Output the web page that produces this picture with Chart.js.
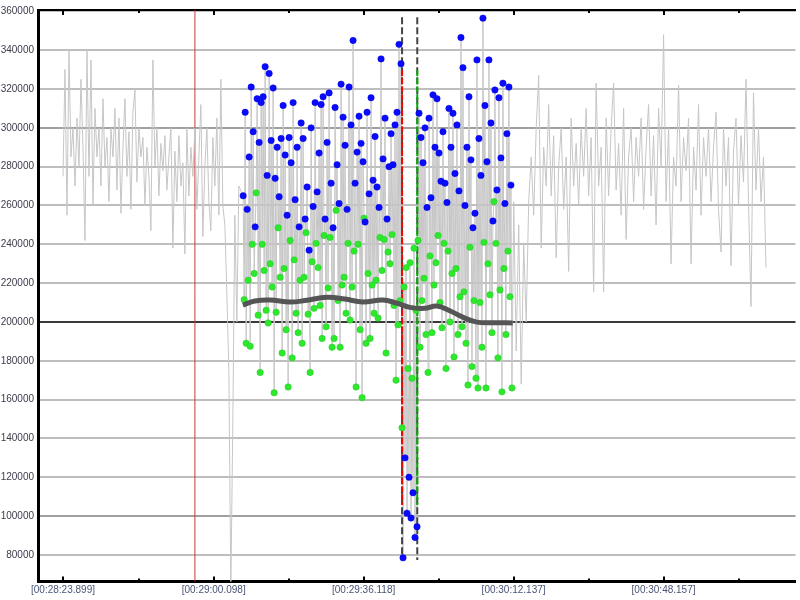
<!DOCTYPE html>
<html>
<head>
<meta charset="utf-8">
<script src="https://cdn.jsdelivr.net/npm/chart.js@4/dist/chart.umd.min.js"></script>
<style>
  html, body { margin: 0; padding: 0; background: #fff; }
  #wrap { width: 800px; height: 600px; }
</style>
</head>
<body>
<div id="wrap"><canvas id="chart" width="800" height="600"></canvas></div>
<script>
// all times are seconds after 00:28:00
const xMajorTicks = [23.899, 60.098, 96.118, 132.137, 168.157];
const xMajorLabels = ['[00:28:23.899]', '[00:29:00.098]', '[00:29:36.118]', '[00:30:12.137]', '[00:30:48.157]'];
const xMinorTicks = [42.14, 78.15, 114.16, 150.17, 186.18];
const yTicks = [80000, 100000, 120000, 140000, 160000, 180000, 200000, 220000, 240000,
  260000, 280000, 300000, 320000, 340000, 360000];

// raw signal before the selected window (sampled every 0.48 s)
const leftStart = 23.9;
const leftStep = 0.48;
const leftValues = [
  275000, 330000, 255000, 340000, 285000, 300000, 270000, 305000, 280000, 325000,
  290000, 242000, 340000, 275000, 335000, 260000, 310000, 285000, 300000, 270000,
  315000, 280000, 295000, 262000, 300000, 285000, 310000, 268000, 305000, 256000,
  290000, 315000, 275000, 298000, 258000, 308000, 320000, 272000, 300000, 285000,
  295000, 260000, 290000, 275000, 247000, 335000, 280000, 300000, 265000, 292000,
  278000, 296000, 268000, 285000, 300000, 238000, 288000, 262000, 296000, 270000,
  282000, 235000, 300000, 265000, 290000, 275000, 300000, 258000, 285000, 312000,
  244000, 280000, 300000, 262000, 247000, 295000, 270000, 305000, 255000, 325000,
  260000, 250000, 215000, 175000, 62000, 150000, 255000, 200000, 270000
];

// selected window: peaks (blue) and troughs (green)
const midStart = 67.18;
const midStep = 0.48;
const peakValues = [
  265000, 308000, 258000, 285000, 321000, 298000, 249000, 315000, 292500, 313000,
  316000, 331500, 275500, 328000, 293500, 320500, 274000, 290000, 264500, 294500,
  311500, 286000, 255000, 295000, 282000, 313000, 263000, 290000, 249000, 302500,
  294500, 253000, 269500, 237000, 300000, 259500, 313000, 267000, 287000, 312000,
  316000, 253000, 292500, 318000, 271500, 248500, 310500, 281000, 261000, 322500,
  305500, 291000, 258000, 321000, 301500, 345000, 271500, 287500, 306000, 292000,
  282500, 251500, 308000, 266000, 315500, 273000, 295500, 269500, 259000, 335500,
  284000, 305000, 253000, 280000, 297000, 281000, 301500, 308000,
  343000, 333000, 78500, 130000, 101500, 120000, 99000, 112000, 89000, 94500,
  307500, 295000, 282000, 300000, 259000, 305000, 264000, 317000, 290000, 315000,
  287000, 272500, 298000, 271500, 261500, 310000, 290000, 307500, 276500, 301500,
  267500, 346500, 331000, 260000, 290000, 316000, 283500, 248500, 256000, 335000,
  294500, 275500, 356500, 311500, 282500, 335000, 302500, 252000, 319500, 268000,
  315500, 284500, 323000, 261000, 297000, 321000, 270500
];
const troughValues = [
  211500, 189000, 221500, 187500, 240000, 225000, 266500, 203500, 174000, 240000,
  226500, 206000, 199500, 230000, 218000, 163500, 205000, 248500, 223000, 184000,
  227500, 196000, 166500, 242000, 181500, 232000, 204500, 194500, 221500, 189000,
  223000, 246000, 204000, 174000, 231000, 207000, 240500, 228000, 208500, 191500,
  244500, 197500, 217500, 243500, 187000, 191500, 257500, 211000, 187000, 219000,
  223000, 204500, 240500, 201000, 218000, 236500, 166500, 240000, 196000, 161000,
  253500, 189000, 225000, 191500, 219000, 204500, 221500, 202000, 243500, 226500,
  242500, 184000, 236000, 230000, 245000, 208500, 170000, 198500,
  211000, 145500, 218000, 228000, 176000, 230500, 171000, 238000, 206000, 242000,
  187000, 211000, 222500, 193500, 174000, 234000, 194500, 219000, 230500, 244500,
  210000, 197000, 240500, 176000, 236500, 200000, 225000, 182000, 227500, 193500,
  213000, 197500, 215500, 189000, 167500, 238500, 177000, 211000, 171000, 166000,
  210000, 187000, 241000, 166000, 230000, 214000, 194500, 262000, 240500, 181500,
  216500, 164000, 227500, 193500, 236500, 213000, 166000
];

// raw signal after the selected window (sampled every 0.6 s)
const rightStart = 132.17;
const rightStep = 0.6;
const rightValues = [
  262000, 185000, 250000, 168000, 240000, 200000, 262000, 285000, 255000, 300000,
  327000, 238000, 290000, 270000, 312000, 265000, 296000, 233000, 280000, 300000,
  258000, 285000, 226000, 305000, 270000, 292000, 260000, 300000, 275000, 310000,
  265000, 295000, 215500, 323000, 270000, 290000, 215500, 305000, 265000, 300000,
  323000, 268000, 292000, 255000, 310000, 242500, 285000, 300000, 262000, 295000,
  275000, 305000, 258000, 290000, 312000, 265000, 296000, 250000, 310000, 280000,
  348000, 262000, 300000, 230000, 285000, 270000, 322000, 262000, 295000, 278000,
  305000, 230000, 290000, 268000, 312000, 255000, 295000, 275000, 300000, 262000,
  290000, 308000, 258000, 236000, 300000, 270000, 295000, 229000, 288000, 305000,
  260000, 296000, 272000, 325000, 262000, 208000, 318000, 268000, 300000, 262000,
  285000, 228000
];

// moving average over the window
const trendTimes = [67.11, 69.99, 73.59, 78.39, 81.99, 87.27, 91.59, 95.91, 100.72,
  104.08, 107.20, 110.80, 113.68, 116.80, 119.92, 123.29, 127.61, 131.93];
const trendValues = [208700, 210800, 211300, 210300, 211000, 212700, 211800, 210300, 211300,
  209700, 207500, 207000, 208200, 205800, 202500, 199900, 199600, 199500];

// markers
const markerTime = 55.59;
const cursorStart = 105.35;
const cursorEnd = 109.0;
const cursorSpan = [357000, 77400];
const cursorRange = [329600, 105700];

const yMin = 66300, yMax = 360700;
const xMin = 17.895, xMax = 199.86;

const peaks = peakValues.map((v, i) => ({ x: midStart + midStep * i, y: v }));
const troughs = troughValues.map((v, i) => ({ x: midStart + midStep * i + midStep / 2, y: v }));
const raw = [];
leftValues.forEach((v, i) => raw.push({ x: leftStart + leftStep * i, y: v }));
peaks.forEach((p, i) => { raw.push(p); raw.push(troughs[i]); });
rightValues.forEach((v, i) => raw.push({ x: rightStart + rightStep * i, y: v }));
const trend = trendTimes.map((t, i) => ({ x: t, y: trendValues[i] }));
const vline = (t, ys) => ys.map(y => ({ x: t, y: y }));

const innerTicks = {
  id: 'innerTicks',
  afterDraw(chart) {
    const { ctx, chartArea, scales: { x } } = chart;
    ctx.save();
    ctx.strokeStyle = '#000';
    ctx.lineWidth = 2;
    const mark = (t, len) => {
      const px = Math.round(x.getPixelForValue(t));
      ctx.beginPath();
      ctx.moveTo(px, chartArea.bottom);
      ctx.lineTo(px, chartArea.bottom - len);
      ctx.moveTo(px, chartArea.top);
      ctx.lineTo(px, chartArea.top + len);
      ctx.stroke();
    };
    xMajorTicks.forEach(t => mark(t, 5));
    xMinorTicks.forEach(t => mark(t, 3));
    ctx.restore();
  }
};

Chart.defaults.font.family = '"Liberation Sans", Arial, sans-serif';
Chart.defaults.font.size = 10;

const lineDefaults = { showLine: true, pointRadius: 0, fill: false };

new Chart(document.getElementById('chart'), {
  type: 'scatter',
  data: {
    datasets: [
      { ...lineDefaults, data: trend, borderColor: '#555555', borderWidth: 5, tension: 0.4, order: 0 },
      { data: peaks, backgroundColor: '#0a0aff', borderColor: '#0000dd', borderWidth: 0.5, pointRadius: 3.2, order: 1 },
      { data: troughs, backgroundColor: '#2ee82e', borderColor: '#22cc22', borderWidth: 0.5, pointRadius: 3.2, order: 2 },
      { ...lineDefaults, data: vline(cursorStart, cursorRange), borderColor: '#ff0000', borderWidth: 2, borderDash: [6, 2], order: 3 },
      { ...lineDefaults, data: vline(cursorEnd, cursorRange), borderColor: '#00b000', borderWidth: 2, borderDash: [6, 2], order: 3 },
      { ...lineDefaults, data: vline(cursorStart, cursorSpan), borderColor: '#444444', borderWidth: 2, borderDash: [7, 3], order: 4 },
      { ...lineDefaults, data: vline(cursorEnd, cursorSpan), borderColor: '#444444', borderWidth: 2, borderDash: [7, 3], order: 4 },
      { ...lineDefaults, data: raw, borderColor: '#c6c6c6', borderWidth: 1, tension: 0, order: 5 },
      { ...lineDefaults, data: vline(markerTime, [yMin, yMax]), borderColor: '#c83c3c', borderWidth: 1, order: 6 }
    ]
  },
  options: {
    responsive: false,
    animation: false,
    devicePixelRatio: 1,
    layout: { padding: { top: 10, right: 4, left: 0, bottom: 0 } },
    plugins: { legend: { display: false }, tooltip: { enabled: false } },
    scales: {
      x: {
        type: 'linear',
        position: 'bottom',
        min: xMin,
        max: xMax,
        afterBuildTicks: s => { s.ticks = xMajorTicks.concat(xMinorTicks).map(v => ({ value: v })); },
        afterFit: s => { s.height = 18.5; },
        grid: { display: false, drawTicks: false },
        border: { display: true, color: '#000', width: 3 },
        ticks: {
          autoSkip: false,
          maxRotation: 0,
          padding: 3,
          color: '#4a5578',
          callback: v => {
            const i = xMajorTicks.indexOf(v);
            return i >= 0 ? xMajorLabels[i] : '';
          }
        }
      },
      x2: {
        type: 'linear',
        position: 'top',
        min: xMin,
        max: xMax,
        afterFit: s => { s.height = 0; },
        grid: { display: false, drawTicks: false },
        border: { display: true, color: '#000', width: 2 },
        ticks: { display: false }
      },
      y: {
        min: yMin,
        max: yMax,
        afterBuildTicks: s => { s.ticks = yTicks.map(v => ({ value: v })); },
        afterFit: s => { s.width = 38; },
        grid: {
          drawTicks: false,
          lineWidth: 2,
          color: c => c.tick.value === 200000 ? '#3a3a3a' : (c.tick.value % 100000 === 0 ? '#a0a0a0' : '#bebebe')
        },
        border: { display: true, color: '#000', width: 3 },
        ticks: { padding: 4, color: '#3c3c4c', callback: v => String(v) }
      }
    }
  },
  plugins: [innerTicks]
});
</script>
</body>
</html>
